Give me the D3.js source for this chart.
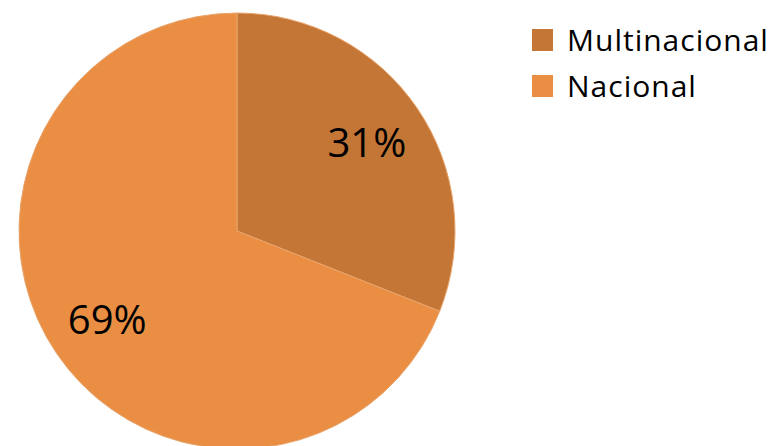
<!DOCTYPE html>
<html>
<head>
<meta charset="utf-8">
<script src="https://cdn.jsdelivr.net/npm/d3@7"></script>
<style>
  html, body { margin: 0; padding: 0; background: #ffffff; }
  svg { display: block; }
</style>
</head>
<body>
<div id="chart"></div>
<script>
const categories = ["Multinacional", "Nacional"];
const values = [31, 69];
const labels = ["31%", "69%"];
const colors = ["#C47637", "#E98E43"];

const width = 776;
const height = 446;
const cx = 237;
const cy = 231;
const radius = 218;

const svg = d3.select("#chart").append("svg").attr("width", width).attr("height", height);

// Pie slices
const pie = d3.pie().sort(null).value((d) => d.value);
const arc = d3.arc().innerRadius(0).outerRadius(radius);
const labelArc = d3.arc().innerRadius(radius * 0.72).outerRadius(radius * 0.72);

const data = categories.map((c, i) => ({ name: c, value: values[i], label: labels[i], color: colors[i] }));

const g = svg.append("g").attr("transform", `translate(${cx},${cy})`);

g.selectAll("path")
  .data(pie(data))
  .enter()
  .append("path")
  .attr("d", arc)
  .attr("fill", (d) => d.data.color)
  .attr("stroke", "#E9A46B")
  .attr("stroke-width", 1);

// Percentage labels
g.selectAll("text")
  .data(pie(data))
  .enter()
  .append("text")
  .attr("transform", (d) => `translate(${labelArc.centroid(d)})`)
  .attr("text-anchor", "middle")
  .attr("dy", "0.36em")
  .attr("font-family", "Open Sans, sans-serif")
  .attr("font-size", 40)
  .attr("fill", "#000")
  .text((d) => d.data.label);

// Legend
const legend = svg.append("g").attr("transform", "translate(532, 29)");
const item = legend
  .selectAll("g")
  .data(data)
  .enter()
  .append("g")
  .attr("transform", (d, i) => `translate(0, ${i * 46})`);

item.append("rect").attr("width", 21).attr("height", 22).attr("fill", (d) => d.color);
item
  .append("text")
  .attr("x", 35)
  .attr("y", 11)
  .attr("dy", "0.36em")
  .attr("font-family", "Open Sans, sans-serif")
  .attr("font-size", 30)
  .attr("letter-spacing", 1)
  .attr("fill", "#000")
  .text((d) => d.name);
</script>
</body>
</html>
